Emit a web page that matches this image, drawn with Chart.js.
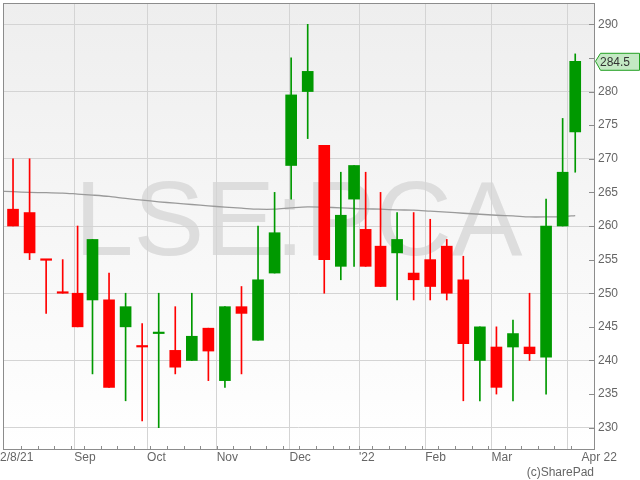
<!DOCTYPE html>
<html><head><meta charset="utf-8">
<script src="https://cdn.jsdelivr.net/npm/chart.js@4/dist/chart.umd.min.js"></script>
<style>html,body{margin:0;padding:0;background:#fff}#wrap{width:640px;height:480px}</style>
</head><body><div id="wrap"><canvas id="c" width="640" height="480"></canvas></div>
<script>
// x positions are in UK trading days, 0 = 1 Sep 2021 (weekly candles centred on their trading days)
const candleX = [-18.5,-13.5,-8.5,-3.5,1,5.5,10.5,15.5,20.5,25.5,30.5,35.5,40.5,45.5,50.5,55.5,60.5,65.5,70.5,75.5,80.5,84.5,88,92.5,97.5,102.5,107.5,112.5,117.5,122.5,127.5,132.5,137.5,142.5,147.5,151.3];
const opens  = [262.5,262,255,250.1,250,249,249,245,242.1,244,241.5,240,244.8,237,248,243,253,269,280,272,254,264,259.5,257,256,253,255,257,252,240,242,242,242,240.5,260,274];
const highs  = [270,270,255,255,260,258,253,250,245.5,250,248,250,244.8,248,251,260,265,285,290,272,268,269,268,265,262,262,261,258,255.5,245,245,246,250,264,276,285.6];
const lows   = [260,255,247,250,245,238,236,234,231,230,238,240,237,236,238,243,253,264,273,250,252,254,254,251,249,249,249,249,234,234,235,234,240,235,260,268];
const closes = [260,256,254.9,250,245,258,236,248,242,244.1,239,243.6,241.4,248,247,252,259,279.5,283,255,261.6,269,254,251,258,252,251,250,242.5,245,236,244,241,260,268,284.5];
const maX      = [-23.5,-18.5,-13.5,-8.5,-3.5,1,5.5,10.5,15.5,20.5,25.5,30.5,35.5,40.5,45.5,50.5,55.5,60.5,65.5,70.5,75.5,80.5,84.5,88,92.5,97.5,102.5,107.5,112.5,117.5,122.5,127.5,132.5,137.5,142.5,147.5,151.3];
const maValues = [265.2,265.1,265.0,264.95,264.9,264.75,264.6,264.4,264.1,263.85,263.6,263.4,263.2,263.0,262.8,262.65,262.5,262.5,262.7,262.85,262.8,262.7,262.6,262.55,262.5,262.4,262.35,262.2,262.05,261.9,261.75,261.6,261.5,261.35,261.35,261.4,261.55];
const monthStarts = [0,22,43,65,86,106,126,149];
const monthLabels = ['Sep','Oct','Nov','Dec',"'22",'Feb','Mar',''];
const firstLabel = '2/8/21';
const lastLabel = 'Apr 22';
const weekStarts = [-16,-11,-6,-1,3,8,13,18,23,28,33,38,43,48,53,58,63,68,73,78,83,86,90,95,100,105,110,115,120,125,130,135,140,145,150];
const yTicks = [230,235,240,245,250,255,260,265,270,275,280,285,290];
const lastPrice = 284.5;
const symbol = 'LSE:PCA';
const credit = '(c)SharePad';

const GREEN = '#009900', RED = '#ff0000';
const FONT = '"Liberation Sans", Arial, sans-serif';
const xMin = -21.53, xMax = 156.97;
const xTickList = [{v: xMin - 0.9, label: firstLabel, grid: false}]
  .concat(monthStarts.map((v, i) => ({v, label: monthLabels[i], grid: true})))
  .concat([{v: 153.2, label: lastLabel, grid: false}]);
const gridVals = new Set(monthStarts);
const colors = candleX.map((_, i) => closes[i] >= opens[i] ? GREEN : RED);

const bgPlugin = {
  id: 'bg',
  beforeDraw(chart) {
    const {ctx, chartArea: a} = chart;
    ctx.save();
    const g = ctx.createLinearGradient(0, a.top, 0, a.bottom);
    g.addColorStop(0, '#eeeeee');
    g.addColorStop(1, '#ffffff');
    ctx.fillStyle = g;
    ctx.fillRect(a.left, a.top, a.right - a.left, a.bottom - a.top);
    ctx.font = '106px ' + FONT;
    ctx.fillStyle = '#dddddd';
    ctx.textAlign = 'center';
    ctx.textBaseline = 'alphabetic';
    ctx.fillText(symbol, (a.left + a.right) / 2, 255);
    ctx.restore();
  },
  afterDraw(chart) {
    const {ctx, chartArea: a, scales} = chart;
    ctx.save();
    ctx.strokeStyle = '#8c8c8c';
    ctx.lineWidth = 1;
    ctx.beginPath();
    yTicks.forEach(v => {
      const py = Math.round(scales.y.getPixelForValue(v)) + 0.5;
      ctx.moveTo(a.right - 5, py); ctx.lineTo(a.right, py);
    });
    weekStarts.forEach(v => {
      const px = Math.round(scales.x.getPixelForValue(v)) + 0.5;
      ctx.moveTo(px, a.bottom - 3); ctx.lineTo(px, a.bottom);
    });
    ctx.stroke();
    ctx.strokeRect(a.left + 0.5, a.top + 0.5, a.right - a.left, a.bottom - a.top);
    // last price tag
    const py = scales.y.getPixelForValue(lastPrice);
    ctx.beginPath();
    ctx.moveTo(595.5, py);
    ctx.lineTo(600.5, py - 8);
    ctx.lineTo(639.5, py - 8);
    ctx.lineTo(639.5, py + 9);
    ctx.lineTo(600.5, py + 9);
    ctx.closePath();
    ctx.fillStyle = '#c4e9c4';
    ctx.fill();
    ctx.strokeStyle = '#22a022';
    ctx.stroke();
    ctx.fillStyle = '#333';
    ctx.font = '12px ' + FONT;
    ctx.textAlign = 'left';
    ctx.textBaseline = 'middle';
    ctx.fillText(String(lastPrice), 600, py + 1);
    // credit
    ctx.fillStyle = '#666';
    ctx.textAlign = 'right';
    ctx.textBaseline = 'alphabetic';
    ctx.fillText(credit, 594, 476);
    ctx.restore();
  }
};

new Chart(document.getElementById('c'), {
  type: 'bar',
  data: {
    datasets: [
      {type: 'bar', label: 'body', data: candleX.map((x, i) => ({x, y: [opens[i], closes[i]]})),
       backgroundColor: colors, barThickness: 11, minBarLength: 1.5, grouped: false, order: 0, borderWidth: 0},
      {type: 'bar', label: 'wick', data: candleX.map((x, i) => ({x, y: [lows[i], highs[i]]})),
       backgroundColor: colors, barThickness: 1, grouped: false, order: 1, borderWidth: 0},
      {type: 'line', label: 'MA', data: maX.map((x, i) => ({x, y: maValues[i]})),
       borderColor: '#9a9a9a', borderWidth: 1.3, pointRadius: 0, tension: 0.3, order: 2}
    ]
  },
  options: {
    responsive: false,
    animation: false,
    layout: {padding: {left: 3, top: 3, right: 0, bottom: 0}},
    plugins: {legend: {display: false}, tooltip: {enabled: false}},
    scales: {
      x: {
        type: 'linear', min: xMin, max: xMax, offset: false,
        afterBuildTicks: s => { s.ticks = xTickList.map(t => ({value: t.v})); },
        afterFit: s => { s.height = 31; s.paddingLeft = 0; s.paddingRight = 0; },
        ticks: {autoSkip: false, maxRotation: 0, minRotation: 0, align: 'start', padding: 1, color: '#666',
                font: {family: FONT, size: 12}, callback: (v, i) => xTickList[i] ? xTickList[i].label : ''},
        grid: {offset: false, drawTicks: false, lineWidth: 1,
               color: c => (c.tick && gridVals.has(c.tick.value)) ? '#d4d4d4' : 'rgba(0,0,0,0)'},
        border: {display: false}
      },
      y: {
        type: 'linear', position: 'right', min: 226.83, max: 293.17, beginAtZero: false,
        afterBuildTicks: s => { s.ticks = yTicks.map(v => ({value: v})); },
        afterFit: s => { s.width = 46; s.paddingTop = 0; s.paddingBottom = 0; },
        ticks: {padding: 4, font: {family: FONT, size: 12}, callback: v => String(v),
                color: c => (c.tick && Math.abs(c.tick.value - lastPrice) < 2) ? 'rgba(0,0,0,0)' : '#666'},
        grid: {drawTicks: false, lineWidth: 1,
               color: c => (c.tick && c.tick.value % 10 === 0) ? '#d4d4d4' : 'rgba(0,0,0,0)'},
        border: {display: false}
      }
    }
  },
  plugins: [bgPlugin]
});
</script></body></html>
